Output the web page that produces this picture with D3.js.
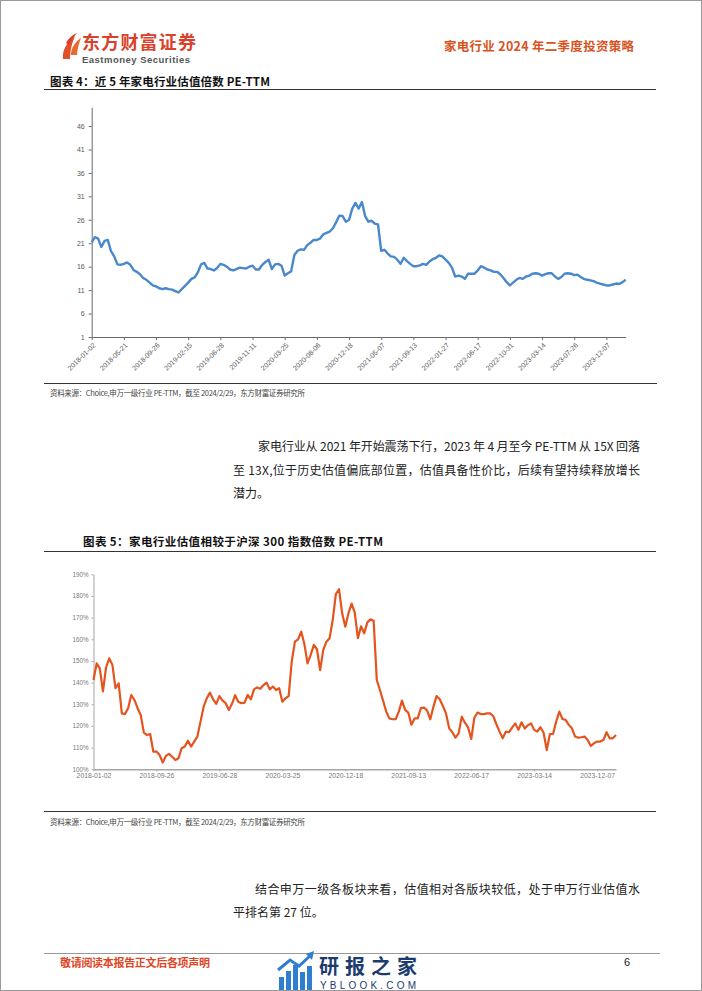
<!DOCTYPE html>
<html>
<head>
<meta charset="utf-8">
<script src="https://cdn.jsdelivr.net/npm/d3@7"></script>
<style>
  html, body { margin: 0; padding: 0; background: #fff; }
  svg { display: block; }
  text { font-family: "Noto Sans CJK SC", "Liberation Sans", sans-serif; }
</style>
</head>
<body>
<div id="page"></div>
<script>
// 图表4：家电行业 PE-TTM，每个点约间隔 9 个交易日
const peTickLabels = [
  "2018-01-02", "2018-05-21", "2018-09-26", "2019-02-15", "2019-06-28",
  "2019-11-11", "2020-03-25", "2020-08-06", "2020-12-18", "2021-05-07",
  "2021-09-13", "2022-01-27", "2022-06-17", "2022-10-31", "2023-03-14",
  "2023-07-26", "2023-12-07",
];
const peYTicks = [1, 6, 11, 16, 21, 26, 31, 36, 41, 46];
const peValues = [
  21.2, 22.3, 22.0, 20.2, 21.5, 21.7, 19.3, 18.2, 16.5, 16.4,
  16.6, 16.9, 16.4, 15.3, 14.9, 14.4, 13.6, 13.2, 12.6, 12.0,
  11.8, 11.4, 11.2, 11.4, 11.2, 11.1, 10.8, 10.5, 11.2, 11.9,
  12.6, 13.4, 13.7, 14.8, 16.5, 16.8, 15.6, 15.5, 15.2, 15.7,
  16.6, 16.4, 16.0, 15.4, 15.2, 15.5, 15.8, 15.7, 15.6, 16.0,
  16.2, 15.4, 15.4, 16.4, 17.0, 17.5, 15.5, 16.5, 16.6, 16.2,
  14.1, 14.6, 15.0, 18.5, 19.4, 19.7, 19.6, 20.6, 21.1, 21.7,
  21.7, 22.0, 22.9, 23.2, 23.5, 24.2, 25.5, 26.9, 26.8, 25.6,
  26.0, 28.4, 29.6, 28.4, 29.8, 26.8, 25.6, 25.8, 25.2, 25.0,
  19.4, 19.6, 18.8, 18.2, 18.1, 17.5, 16.6, 17.9, 17.2, 16.6,
  16.1, 16.1, 16.3, 16.6, 16.4, 17.1, 17.6, 17.9, 18.4, 18.2,
  17.5, 16.8, 15.8, 13.9, 14.1, 13.9, 13.4, 14.5, 14.5, 14.5,
  15.2, 16.1, 15.8, 15.4, 15.2, 14.9, 14.9, 14.4, 13.6, 12.7,
  12.0, 12.6, 13.2, 13.6, 13.4, 13.9, 14.1, 14.5, 14.6, 14.5,
  14.1, 14.4, 14.6, 14.6, 13.9, 13.4, 13.8, 14.5, 14.6, 14.5,
  14.2, 14.3, 13.8, 13.4, 13.2, 13.1, 12.9, 12.6, 12.4, 12.2,
  12.0, 12.0, 12.2, 12.4, 12.3, 12.7, 13.2,
];

// 图表5：家电 PE-TTM / 沪深300 PE-TTM（%）
const relTickLabels = [
  "2018-01-02", "2018-09-26", "2019-06-28", "2020-03-25", "2020-12-18",
  "2021-09-13", "2022-06-17", "2023-03-14", "2023-12-07",
];
const relYTicks = [100, 110, 120, 130, 140, 150, 160, 170, 180, 190];
const relValues = [
  141.2, 148.9, 146.6, 136.0, 147.1, 151.2, 148.2, 137.4, 139.7, 125.8,
  125.5, 128.2, 134.3, 132.0, 128.2, 125.1, 116.9, 115.8, 116.3, 108.2,
  108.2, 106.6, 103.1, 106.2, 107.1, 105.8, 104.3, 105.1, 109.7, 110.5,
  113.2, 110.5, 112.8, 115.1, 122.0, 128.9, 132.8, 135.4, 132.3, 130.2,
  133.8, 131.7, 130.5, 127.4, 130.2, 134.2, 131.2, 130.5, 130.8, 134.3,
  132.3, 136.9, 137.8, 137.2, 138.9, 140.0, 136.9, 138.2, 136.6, 137.4,
  131.2, 132.8, 133.8, 150.0, 158.9, 160.0, 163.5, 157.8, 148.9, 152.8,
  157.4, 155.4, 145.8, 155.1, 158.9, 160.5, 168.9, 180.9, 183.1, 172.0,
  165.8, 172.0, 176.5, 172.3, 160.5, 166.0, 162.8, 167.8, 169.2, 168.6,
  141.2, 136.6, 131.7, 126.6, 123.5, 123.1, 123.1, 126.6, 131.7, 127.4,
  126.2, 120.6, 123.5, 123.5, 128.2, 128.5, 127.1, 123.1, 128.9, 133.8,
  132.3, 129.2, 125.8, 118.9, 117.1, 114.6, 116.6, 124.3, 121.5, 119.4,
  114.0, 123.8, 126.2, 125.5, 125.5, 125.8, 125.8, 124.6, 120.8, 117.4,
  114.3, 117.4, 117.1, 119.2, 121.2, 118.2, 121.7, 118.8, 120.3, 121.2,
  118.2, 117.4, 119.4, 116.9, 108.9, 116.3, 116.3, 122.0, 126.6, 123.2,
  122.8, 120.5, 118.9, 115.1, 114.6, 114.8, 115.1, 113.5, 110.8, 112.0,
  112.8, 112.8, 113.5, 117.1, 114.3, 114.3, 115.8,
];

const PAGE_W = 702;
const PAGE_H = 991;
const LATIN = "'Liberation Sans', Arial, sans-serif";

const svg = d3
  .select("#page")
  .append("svg")
  .attr("width", PAGE_W)
  .attr("height", PAGE_H);

svg.append("rect").attr("width", PAGE_W).attr("height", PAGE_H).attr("fill", "#fff");

function addText(x, y, str, size, opts = {}) {
  const t = svg
    .append("text")
    .attr("x", x)
    .attr("y", y)
    .attr("font-size", size)
    .attr("fill", opts.fill || "#222")
    .attr("font-weight", opts.weight || 400)
    .attr("text-anchor", opts.anchor || "start")
    .text(str);
  if (opts.width) t.attr("textLength", opts.width).attr("lengthAdjust", "spacing");
  if (opts.family) t.style("font-family", opts.family);
  return t;
}

function hline(y, x1, x2, color, w) {
  svg
    .append("line")
    .attr("x1", x1)
    .attr("x2", x2)
    .attr("y1", y)
    .attr("y2", y)
    .attr("stroke", color)
    .attr("stroke-width", w);
}

function drawHeader() {
  // logo mark
  const logo = svg.append("g");
  logo
    .append("path")
    .attr("d", "M63,59 C62,50 67,42 75,36 C72,43 70,50 70,59 Z")
    .attr("fill", "#e0522b");
  logo
    .append("path")
    .attr("d", "M71,55 C71,48 75,42 81,38 C79,44 77,49 77,55 Z")
    .attr("fill", "#e86a2e");
  logo
    .append("path")
    .attr("d", "M66,43 C68,39 72,35 77,33 C74,37 71,40 69,45 Z")
    .attr("fill", "#d9412b");

  addText(82, 49, "东方财富证券", 18, { fill: "#d9412b", weight: 700, width: 114 });
  addText(82, 63, "Eastmoney Securities", 9.5, {
    fill: "#555",
    weight: 700,
    width: 108,
    family: LATIN,
  });
  addText(634, 51, "家电行业 2024 年二季度投资策略", 12.5, {
    fill: "#d9531e",
    weight: 700,
    anchor: "end",
    width: 190,
  });
}

function styleAxis(g, color, textColor, size) {
  g.select(".domain").attr("stroke", color);
  g.selectAll(".tick line").attr("stroke", color);
  g.selectAll(".tick text")
    .attr("fill", textColor)
    .attr("font-size", size)
    .style("font-family", LATIN);
}

function drawPeChart() {
  const x = d3
    .scaleLinear()
    .domain([0, peValues.length - 1])
    .range([91.7, 625.7]);
  const y = d3.scaleLinear().domain([1, 50]).range([337, 107.3]);

  const line = d3
    .line()
    .x((d, i) => x(i))
    .y((d) => y(d));

  const yAxis = svg
    .append("g")
    .attr("transform", "translate(91.7,0)")
    .call(d3.axisLeft(y).tickValues(peYTicks).tickSize(3).tickPadding(4).tickSizeOuter(0));
  styleAxis(yAxis, "#6b6b6b", "#595959", 7);

  const xAxis = svg
    .append("g")
    .attr("transform", "translate(0,337)")
    .call(
      d3
        .axisBottom(x)
        .tickValues(peTickLabels.map((_, i) => i * 10))
        .tickFormat((d, i) => peTickLabels[i])
        .tickSize(3)
        .tickSizeOuter(0),
    );
  styleAxis(xAxis, "#6b6b6b", "#595959", 7);
  xAxis
    .selectAll(".tick text")
    .attr("x", 0)
    .attr("y", 0)
    .attr("dy", "0.35em")
    .attr("text-anchor", "end")
    .attr("transform", "translate(2,7) rotate(-45)");

  svg
    .append("path")
    .datum(peValues)
    .attr("d", line)
    .attr("fill", "none")
    .attr("stroke", "#4a88cc")
    .attr("stroke-width", 2.4)
    .attr("stroke-linejoin", "round");
}

function drawRelChart() {
  const x = d3
    .scaleLinear()
    .domain([0, relValues.length - 1])
    .range([93.5, 616]);
  const y = d3.scaleLinear().domain([100, 190]).range([769.3, 574.3]);

  const line = d3
    .line()
    .x((d, i) => x(i))
    .y((d) => y(d));

  const yAxis = svg
    .append("g")
    .attr("transform", "translate(93.5,0)")
    .call(
      d3
        .axisLeft(y)
        .tickValues(relYTicks)
        .tickFormat((d) => d + "%")
        .tickSize(2)
        .tickPadding(3)
        .tickSizeOuter(0),
    );
  styleAxis(yAxis, "#a6a6a6", "#7a7a7a", 6.3);

  const xAxis = svg
    .append("g")
    .attr("transform", "translate(0,769.3)")
    .call(
      d3
        .axisBottom(x)
        .tickValues(relTickLabels.map((_, i) => i * 20))
        .tickFormat((d, i) => relTickLabels[i])
        .tickSize(2)
        .tickPadding(2)
        .tickSizeOuter(0),
    );
  styleAxis(xAxis, "#a6a6a6", "#7a7a7a", 6.8);
  xAxis.select(".domain").attr("stroke-width", 1.5);

  svg
    .append("path")
    .datum(relValues)
    .attr("d", line)
    .attr("fill", "none")
    .attr("stroke", "#e4541e")
    .attr("stroke-width", 2.2)
    .attr("stroke-linejoin", "round");
}

function drawBody() {
  addText(50, 86, "图表 4：近 5 年家电行业估值倍数 PE-TTM", 11.5, { weight: 700, width: 220, fill: "#111" });
  hline(89.5, 44, 656, "#333", 1);

  hline(383.5, 44, 657, "#333", 1);
  const source = "资料来源：Choice,申万一级行业 PE-TTM，截至 2024/2/29，东方财富证券研究所";
  addText(50, 396, source, 7.5, { width: 255, fill: "#444" });

  addText(258, 451, "家电行业从 2021 年开始震荡下行，2023 年 4 月至今 PE-TTM 从 15X 回落", 12, { width: 382 });
  addText(233, 475, "至 13X,位于历史估值偏底部位置，估值具备性价比，后续有望持续释放增长", 12, { width: 407 });
  addText(233, 498, "潜力。", 12);

  addText(83, 546, "图表 5：家电行业估值相较于沪深 300 指数倍数 PE-TTM", 11.5, { weight: 700, width: 300, fill: "#111" });
  hline(551.5, 44, 656, "#333", 1);

  hline(811.5, 44, 656, "#333", 1);
  addText(50, 825, source, 7.5, { width: 255, fill: "#444" });

  addText(255, 894, "结合申万一级各板块来看，估值相对各版块较低，处于申万行业估值水", 12, { width: 385 });
  addText(233, 917, "平排名第 27 位。", 12);
}

function drawFooter() {
  hline(953.5, 44, 660, "#999", 1);
  addText(60, 967, "敬请阅读本报告正文后各项声明", 11, { fill: "#e0461f", weight: 700, width: 150 });
  addText(627, 966, "6", 11, { anchor: "middle", fill: "#222", family: LATIN });

  // 研报之家 watermark
  const wm = svg.append("g");
  [
    [279, 977],
    [286, 971],
    [293, 965],
    [300, 972],
    [307, 966],
  ].forEach(([bx, by]) => {
    wm.append("rect")
      .attr("x", bx)
      .attr("y", by)
      .attr("width", 5)
      .attr("height", 990 - by)
      .attr("fill", "#2f7fd0");
  });
  wm.append("path")
    .attr("d", "M278,970 L290,960 L299,966 L311,955")
    .attr("fill", "none")
    .attr("stroke", "#2f7fd0")
    .attr("stroke-width", 3);
  wm.append("path").attr("d", "M306,954 L314,951 L312,960 Z").attr("fill", "#2f7fd0");
  addText(319, 974, "研报之家", 20, { fill: "#1d3c6e", weight: 700, width: 98 });
  addText(320, 989, "YBLOOK.COM", 10, {
    fill: "#1d3c6e",
    width: 96,
    family: LATIN,
  });

  svg
    .append("rect")
    .attr("x", 0.5)
    .attr("y", 0.5)
    .attr("width", PAGE_W - 1)
    .attr("height", PAGE_H - 1)
    .attr("fill", "none")
    .attr("stroke", "#9a9a9a");
}

drawHeader();
drawPeChart();
drawRelChart();
drawBody();
drawFooter();
</script>
</body>
</html>
